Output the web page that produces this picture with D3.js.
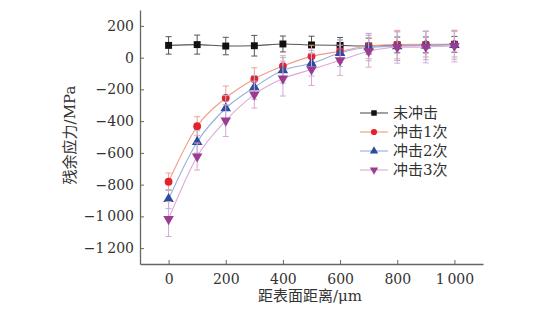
<!DOCTYPE html>
<html>
<head>
<meta charset="utf-8">
<script src="https://cdn.jsdelivr.net/npm/d3@7"></script>
<style>
  body { margin: 0; background: #fff; }
  text { font-family: "DejaVu Serif", "Noto Sans CJK SC", serif; fill: #333; }
</style>
</head>
<body>
<script>
var depth = [0, 100, 200, 300, 400, 500, 600, 700, 800, 900, 1000];

var names = ['未冲击', '冲击1次', '冲击2次', '冲击3次'];

var stress0 = [77, 82, 73, 75, 86, 80, 77, 73, 80, 80, 84];
var stress1 = [-782, -432, -254, -134, -53, 8, 40, 73, 82, 84, 84];
var stress2 = [-891, -531, -319, -187, -80, -36, 29, 65, 72, 77, 80];
var stress3 = [-1017, -623, -397, -233, -132, -75, -17, 40, 65, 67, 73];

var err0 = [55, 60, 55, 65, 50, 55, 50, 50, 50, 50, 50];
var err1 = [55, 60, 75, 70, 65, 70, 70, 80, 90, 80, 80];
var err2 = [60, 70, 80, 75, 80, 80, 85, 85, 90, 90, 90];
var err3 = [110, 85, 100, 85, 110, 100, 95, 100, 100, 100, 100];

var xTicks = [0, 200, 400, 600, 800, 1000];
var yTicks = [200, 0, -200, -400, -600, -800, -1000, -1200];

var series = [
  {name: names[0], vals: stress0, errs: err0, mark: '#111', line: '#555', bar: '#555', sym: d3.symbolSquare},
  {name: names[1], vals: stress1, errs: err1, mark: '#e3222b', line: '#f29a85', bar: '#f0a090', sym: d3.symbolCircle},
  {name: names[2], vals: stress2, errs: err2, mark: '#2b4c9c', line: '#94aede', bar: '#a8b8e0', sym: d3.symbolTriangle},
  {name: names[3], vals: stress3, errs: err3, mark: '#9c3c90', line: '#dca8d8', bar: '#d8a8d4', sym: 'down'}
];

var svg = d3.select('body').append('svg')
  .attr('width', 560)
  .attr('height', 320);

var x = d3.scaleLinear().domain([-100, 1100]).range([140, 483]);
var y = d3.scaleLinear().domain([-1300, 300]).range([264, 10]);

function fmt(v) {
  var s = Math.abs(v) >= 1000 ? d3.format(',')(Math.abs(v)).replace(',', '\u2009') : String(Math.abs(v));
  return (v < 0 ? '\u2212' : '') + s;
}

var xAxis = svg.append('g')
  .attr('transform', 'translate(0,264)')
  .call(d3.axisBottom(x).tickValues(xTicks).tickSizeInner(-4).tickSizeOuter(0).tickPadding(10).tickFormat(fmt));
var yAxis = svg.append('g')
  .attr('transform', 'translate(140,0)')
  .call(d3.axisLeft(y).tickValues(yTicks).tickSizeInner(-4).tickSizeOuter(0).tickPadding(6).tickFormat(fmt));

[xAxis, yAxis].forEach(function (g) {
  g.select('.domain').attr('stroke', '#666').attr('stroke-width', 1.3);
  g.selectAll('.tick line').attr('stroke', '#666');
  g.selectAll('.tick text').attr('font-size', 14).attr('fill', '#333')
    .style('font-family', '"DejaVu Serif", serif');
});

var line = d3.line()
  .x(function (d, i) { return x(depth[i]); })
  .y(function (d) { return y(d); })
  .curve(d3.curveMonotoneX);

function symPath(s, size) {
  if (s === 'down') {
    return d3.symbol(d3.symbolTriangle, size)() ;
  }
  return d3.symbol(s, size)();
}

series.forEach(function (s) {
  var g = svg.append('g');
  // error bars
  s.vals.forEach(function (v, i) {
    var cx = x(depth[i]);
    var top = y(v + s.errs[i]), bot = y(v - s.errs[i]);
    g.append('line').attr('x1', cx).attr('x2', cx).attr('y1', top).attr('y2', bot)
      .attr('stroke', s.bar).attr('stroke-width', 1);
    [top, bot].forEach(function (yy) {
      g.append('line').attr('x1', cx - 3).attr('x2', cx + 3).attr('y1', yy).attr('y2', yy)
        .attr('stroke', s.bar).attr('stroke-width', 1);
    });
  });
  g.append('path').datum(s.vals)
    .attr('d', line)
    .attr('fill', 'none')
    .attr('stroke', s.line)
    .attr('stroke-width', 1.1);
  g.selectAll('path.pt').data(s.vals).enter().append('path')
    .attr('class', 'pt')
    .attr('d', symPath(s.sym, 48))
    .attr('transform', function (d, i) {
      return 'translate(' + x(depth[i]) + ',' + y(d) + ')' + (s.sym === 'down' ? ' rotate(180)' : '');
    })
    .attr('fill', s.mark);
});

// legend
var legend = svg.append('g');
var rowY = [113, 132, 151, 170];
series.forEach(function (s, i) {
  var r = legend.append('g').attr('transform', 'translate(0,' + rowY[i] + ')');
  r.append('line').attr('x1', 360).attr('x2', 388).attr('stroke', s.line).attr('stroke-width', 1.1);
  r.append('path').attr('d', symPath(s.sym, 30))
    .attr('transform', 'translate(374,0)' + (s.sym === 'down' ? ' rotate(180)' : ''))
    .attr('fill', s.mark);
  r.append('text').attr('x', 393).attr('y', 5).attr('font-size', 15).text(s.name);
});

svg.append('text')
  .attr('transform', 'translate(75,135) rotate(-90)')
  .attr('text-anchor', 'middle')
  .attr('font-size', 15)
  .text('残余应力/MPa');

svg.append('text')
  .attr('x', 310).attr('y', 301)
  .attr('text-anchor', 'middle')
  .attr('font-size', 15)
  .text('距表面距离/μm');
</script>
</body>
</html>
